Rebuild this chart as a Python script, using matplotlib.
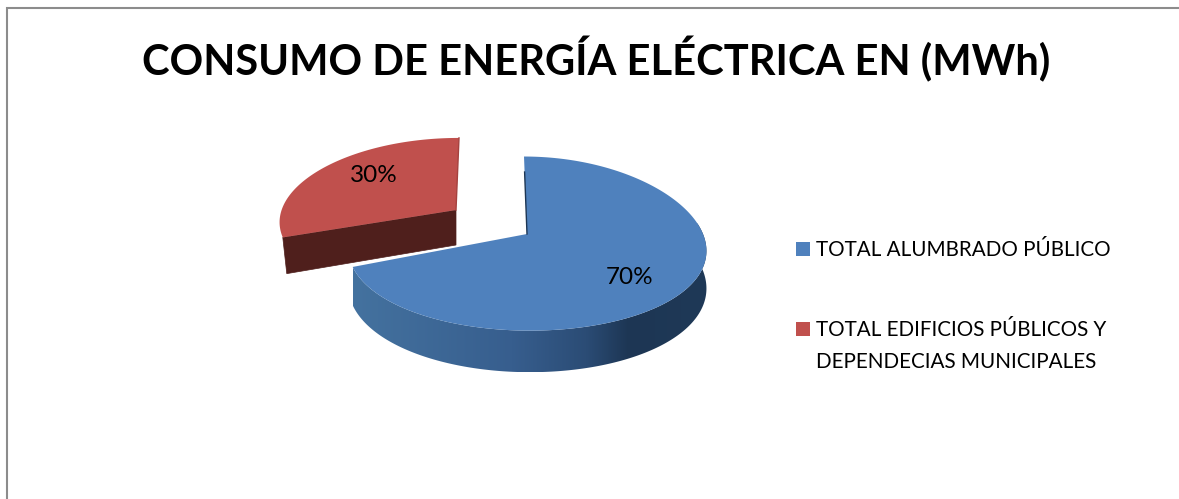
import numpy as np
import matplotlib
matplotlib.use("Agg")
import matplotlib.pyplot as plt
from matplotlib.colors import LinearSegmentedColormap
from matplotlib.patches import Polygon, Rectangle

title = "CONSUMO DE ENERGÍA ELÉCTRICA EN (MWh)"
categories = ["TOTAL ALUMBRADO PÚBLICO", "TOTAL EDIFICIOS PÚBLICOS Y\nDEPENDECIAS MUNICIPALES"]
values = [70, 30]
colors = ["#4F81BD", "#C0504D"]

plt.rcParams["font.family"] = ["Lato", "DejaVu Sans"]
W, H = 1179, 499
fig = plt.figure(figsize=(W / 100, H / 100), dpi=100)
ax = fig.add_axes([0, 0, 1, 1])
ax.axis("off")

K = 0.11


def project(theta, r, apex, rx, ry, depth, shear, sag):
    """Clockwise-from-top angle on a tilted disc -> pixels; depth pushes down."""
    u, v = r * np.sin(theta), r * np.cos(theta)
    s = 1 / (1 + K * v)
    return apex[0] + rx * u * s + shear * v, apex[1] - ry * v * s + depth * s + sag * u ** 2


total = sum(values)
spans = [2 * np.pi * v / total for v in values]

# Second slice (exploded), drawn first
a0, a1 = spans[0], 2 * np.pi
red = dict(apex=(456, 210), rx=175, ry=80, shear=3, sag=2)
d = 35
cx_t, cy_t = project(a0, 1, depth=0, **red)
cx_b, cy_b = project(a0, 1, depth=d, **red)
ax_t, ay_t = project(a0, 0, depth=0, **red)
ax_b, ay_b = project(a0, 0, depth=d, **red)
ax.fill([cx_t, ax_t, ax_b, cx_b + 4], [cy_t, ay_t, ay_b, cy_b],
        color="#4F1F1C", lw=0.5, zorder=1)
th = np.linspace(a0, a1, 200)
xs, ys = project(th, 1, depth=0, **red)
ax.fill(np.r_[ax_t, xs], np.r_[ay_t, ys], color=colors[1], lw=0, zorder=2)
ex, ey = project(a1, 1, depth=0, **red)
ax.plot([ex, ax_t], [ey, ay_t], color="#A5423F", lw=1.0, zorder=2)

# First slice: shaded side wall, then top face
a0, a1 = 0, spans[0]
blue = dict(apex=(527, 234), rx=178, ry=86, shear=-3, sag=6)
d = 37
cmap = LinearSegmentedColormap.from_list(
    "side",
    [(0, "#44729F"), (0.45, "#375E8E"), (0.66, "#2B4C75"), (0.78, "#1D3654"), (1, "#1F3957")],
)
th = np.linspace(np.pi / 2 - 0.2, a1, 300)
xt, yt = project(th, 1, depth=0, **blue)
xb, yb = project(th, 1, depth=d, **blue)
wall = Polygon(np.c_[np.r_[xt, xb[::-1]], np.r_[yt, yb[::-1]]], closed=True,
               facecolor="none", edgecolor="none", transform=ax.transData, zorder=3)
ax.add_patch(wall)
img = ax.imshow(np.linspace(0, 1, 256).reshape(1, -1), cmap=cmap, aspect="auto",
                extent=(xt.min(), xt.max(), yb.max(), yt.min()), zorder=3)
img.set_clip_path(wall)
th = np.linspace(a0, a1, 400)
xs, ys = project(th, 1, depth=0, **blue)
px, py = project(0.0, 0, depth=0, **blue)
ax.fill(np.r_[px, xs], np.r_[py, ys], color=colors[0], lw=0, zorder=4)
sx, sy = project(0.0, 1, depth=0, **blue)
ax.plot([sx + 0.2 * (px - sx), px], [sy + 0.2 * (py - sy), py], color="#1D3654", lw=1.0, zorder=5)

# Percentage labels
ax.text(630, 277, f"{values[0]}%", ha="center", va="center", fontsize=17.5, color="black", zorder=6)
ax.text(374, 175, f"{values[1]}%", ha="center", va="center", fontsize=17.5, color="black", zorder=6)

# Title
ax.text(596, 59, title, ha="center", va="center", fontsize=30, fontweight="bold", color="black")

# Legend
for (cat, col, y) in zip(categories, colors, (249, 329)):
    ax.add_patch(Rectangle((796, y - 7), 14, 14, facecolor=col, edgecolor="none"))
    ax.text(816, y - 9, cat, ha="left", va="top", fontsize=14.85, color="black", linespacing=1.75)

# Chart frame
ax.plot([7, 7, W], [H, 8, 8], color="#8C8C8C", lw=1.5, solid_joinstyle="miter")

ax.set_xlim(0, W)
ax.set_ylim(H, 0)
fig.savefig("out.png", dpi=100)
